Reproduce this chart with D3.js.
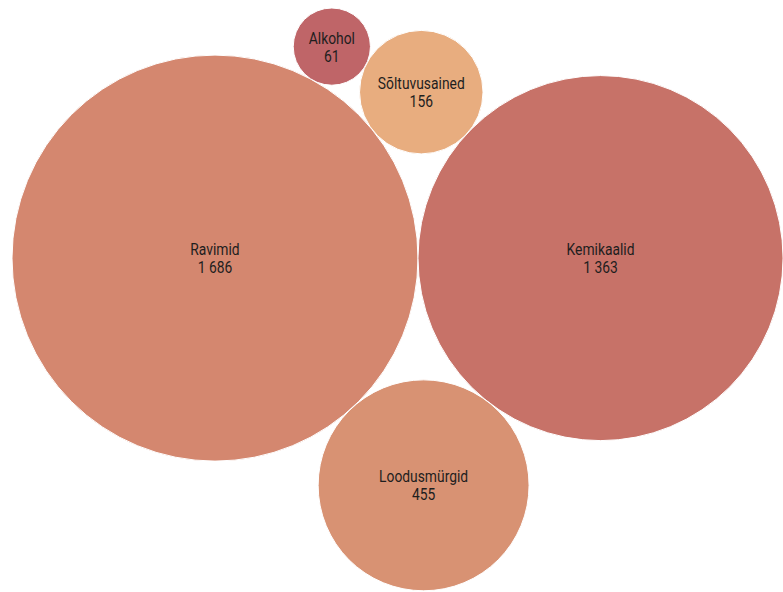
<!DOCTYPE html>
<html>
<head>
<meta charset="utf-8">
<script src="https://cdn.jsdelivr.net/npm/d3@7"></script>
<style>
  body { margin: 0; background: #fff; }
  .label { font-family: Roboto, sans-serif; font-size: 16.5px; fill: #1e1e1e; }
</style>
</head>
<body>
<div id="vis"></div>
<script>
const width = 783;
const height = 592;

// categories and values, in the order the bubbles are packed
const categories = ["Ravimid", "Kemikaalid", "Loodusmürgid", "Sõltuvusained", "Alkohol"];
const values = [1686, 1363, 455, 156, 61];
const colors = ["#d4876f", "#c77268", "#d89273", "#e8ad7f", "#bf6568"];

const svg = d3.select("#vis").append("svg")
  .attr("width", width)
  .attr("height", height);

// bubble area scale
const r = d3.scaleSqrt().domain([0, d3.max(values)]).range([0, 203]);

let nodes = values.map((v, i) => ({ name: categories[i], value: v, color: colors[i], r: r(v) }));
d3.packSiblings(nodes);

// place the cluster by its left / top edge
const minX = d3.min(nodes, d => d.x - d.r);
const minY = d3.min(nodes, d => d.y - d.r);
const x = d3.scaleLinear().domain([minX, minX + 1]).range([12, 13]);
const y = d3.scaleLinear().domain([minY, minY + 1]).range([8, 9]);

const fmt = v => d3.format(",")(v).replace(/,/g, " ");

const g = svg.selectAll("g.bubble").data(nodes).enter().append("g")
  .attr("class", "bubble")
  .attr("transform", d => "translate(" + x(d.x) + "," + y(d.y) + ")");

g.append("circle")
  .attr("r", d => d.r)
  .attr("fill", d => d.color)
  .attr("stroke", "#fff")
  .attr("stroke-width", 1);

const t = g.append("text")
  .attr("class", "label")
  .attr("text-anchor", "middle")
  .attr("transform", "scale(0.84,1)");

t.append("tspan").attr("x", 0).attr("y", -3).text(d => d.name);
t.append("tspan").attr("x", 0).attr("y", 15).text(d => fmt(d.value));
</script>
</body>
</html>
